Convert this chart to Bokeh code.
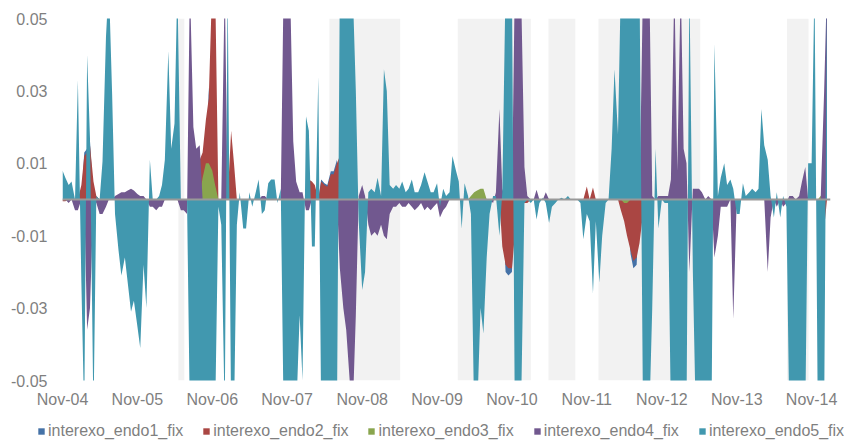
import pandas as pd
from bokeh.plotting import figure
from bokeh.layouts import column
from bokeh.models import (Range1d, FixedTicker, DatetimeTickFormatter, PrintfTickFormatter,
                          Span, Legend, LegendItem)
from bokeh.embed import file_html
from bokeh.resources import INLINE

# ---------------- data ----------------
# semi-monthly observations (1st and 15th), Nov-2004 .. Jan-2015
DATES = pd.date_range("2004-11-01", periods=246, freq="SMS")

SERIES_NAMES = ["interexo_endo1_fix", "interexo_endo2_fix", "interexo_endo3_fix",
                "interexo_endo4_fix", "interexo_endo5_fix"]

endo1 = [
    0, 0, 0, 0, 0, 0, 0, 0.013, 0.014, 0.016, 0, 0,
    0, 0, 0, 0, 0, 0, 0, 0, 0, 0, 0, 0,
    0, 0, 0, 0, 0, 0, 0, 0, 0, 0, 0, 0,
    0, 0, 0, 0, 0, 0, 0, 0, 0, 0, 0, 0.031,
    0, 0, 0, 0, 0, 0, 0, 0, 0, 0, 0, 0,
    0, 0, 0, 0, 0, 0, 0, 0, 0, 0, 0, 0,
    0, 0, 0, 0, 0, 0, 0, 0, 0, 0, 0, 0.0055,
    0.0045, 0.004, 0.0078, 0.0078, 0.011, 0, 0, 0, 0, 0, 0, 0,
    0, 0, 0, 0, 0, 0, 0, 0, 0, 0, 0, 0,
    0, 0, 0, 0, 0, 0, 0, 0, 0, 0, 0, 0,
    0, 0, 0, 0, 0, 0, 0, 0, 0, 0, 0, 0,
    0, 0, 0, 0, 0, 0, 0, 0, 0, 0, -0.02, -0.021,
    -0.02, 0, 0, 0, 0, 0, 0, 0, 0, 0, 0, 0,
    0, 0, 0, 0, 0, 0, 0, 0, 0, 0, 0, 0,
    0, 0, 0, 0, 0, 0, 0, 0, 0, 0, 0, 0,
    0, 0, -0.015, -0.019, -0.018, 0, 0, 0, 0, 0, 0, 0,
    0, 0, 0, 0, 0, 0, 0, 0, 0, 0, 0, 0,
    0, 0, 0, 0, 0, 0, 0, 0, 0, 0, 0, 0,
    0, 0, 0, 0, 0, 0, 0, 0, 0, 0, 0, 0,
    0, 0, 0, 0, 0, 0, 0, 0, 0, 0, 0, 0,
    0, 0, 0, 0, 0, 0,
]

endo2 = [
    -0.0005, -0.0005, 0, 0, 0, 0, 0.004, 0.012, 0.013, 0.015, 0.005, 0.001,
    0, 0, 0, 0, 0, 0, 0, 0, 0, 0, 0, 0,
    0, 0, 0, 0, 0, 0, 0, 0, 0, 0, 0, 0,
    0, 0, 0, 0, 0, 0, 0, 0, 0.011, 0.013, 0.022, 0.028,
    0.06, 0.06, 0, 0, 0, 0, 0.019, 0.01, 0, 0, 0, 0,
    0, 0, 0, 0, 0, 0, 0, 0, 0, 0, 0, 0,
    0, 0, 0, 0, 0, 0, 0, 0.0055, 0.005, 0.004, 0, 0.005,
    0.004, 0.0035, 0.007, 0.007, 0.01, 0.012, 0, 0, 0, 0, 0, 0,
    0, 0, 0, 0, 0, 0, 0, 0, 0, 0, 0, 0,
    0, 0, 0, 0, 0, 0, 0, 0, 0, 0, 0, 0,
    0, 0, 0, 0, 0, 0, 0, 0, 0, 0, 0, 0,
    0, 0, 0, 0, 0, 0, 0, 0, 0, -0.013, -0.018, -0.019,
    -0.019, -0.01, -0.005, -0.002, -0.001, -0.001, 0, 0, 0, 0, 0, 0,
    0, 0, 0, 0, 0, 0, 0, 0, 0, 0, 0, 0,
    0.0036, 0, 0.0033, 0, 0, 0, 0, 0, 0, 0, 0, -0.003,
    -0.006, -0.01, -0.014, -0.017, -0.016, -0.012, -0.004, 0, 0, 0, 0, 0,
    0, 0, 0, 0, 0, 0, 0, 0, 0, 0, 0, 0,
    0, 0, 0, 0, 0, 0, 0, 0, 0, 0, 0, 0,
    0, 0, 0, 0, 0, 0, 0, 0, 0, 0, 0, 0,
    0, 0, 0, 0, 0, 0, 0, 0, 0, 0, 0, 0,
    0, 0, 0, 0, -0.008, 0,
]

endo3 = [
    0, 0, 0, 0, 0, 0, 0, 0, 0, 0, 0, 0,
    0, 0, 0, 0, 0, 0, 0, 0, 0, 0, 0, 0,
    0, 0, 0, 0, 0, 0, 0, 0, 0, 0, 0, 0,
    0, 0, 0, 0, 0, 0, 0, 0, 0.001, 0.006, 0.010, 0.010,
    0.008, 0.004, 0, -0.001, 0, 0, 0, 0, 0, 0, 0, 0,
    0, 0, 0, 0, 0, 0, 0, 0, 0, 0, 0, 0,
    0, 0, 0, 0, 0, 0, 0, 0, 0, 0, 0, 0,
    0, 0, 0, 0, 0, 0, 0, 0, 0, 0, 0, 0,
    0, 0, 0, 0, 0, 0, 0, 0, 0, 0, 0, 0,
    0, 0, 0, 0, 0, 0, 0, 0, 0, 0, 0, 0,
    0, 0, 0, 0, 0, 0, 0, 0, 0, 0, 0, 0.001,
    0.002, 0.0025, 0.003, 0.003, 0, 0, 0, 0, 0, 0, 0, 0,
    0, 0, 0, 0, 0, 0, 0, 0, 0, 0, 0, 0,
    0, 0, 0, 0, 0, 0, 0, 0, 0, 0, 0, 0,
    0, 0, 0, 0, 0, 0, 0, 0, 0, 0, 0, 0,
    -0.001, -0.001, 0, 0, 0, 0, 0, 0, 0, 0, 0, 0,
    0, 0, 0, 0, 0, 0, 0, 0, 0, 0, 0, 0,
    0, 0, 0, 0, 0, 0, 0, 0, 0, 0, 0, 0,
    0, 0, 0, 0, 0, 0, 0, 0, 0, 0, 0, 0,
    0, 0, 0, 0, 0, 0, 0, 0, 0, 0, 0, 0,
    0, 0, 0, 0.001, 0.002, 0.002,
]

endo4 = [
    0, 0, -0.001, 0, -0.003, -0.003, 0, 0, -0.036, -0.03, 0, -0.001,
    -0.004, -0.004, -0.002, 0, 0, 0.001, 0.0015, 0.002, 0.002, 0.0025, 0.003, 0.0025,
    0.0015, 0.001, 0.001, 0, -0.002, -0.002, -0.003, -0.002, -0.002, 0, 0, 0,
    0, 0, -0.003, -0.003, -0.004, 0.06, 0.02, 0.014, 0.015, 0, 0, 0,
    0, 0, -0.002, 0, 0.06, 0, 0, 0, -0.001, 0, 0, 0,
    0, 0, 0, 0, 0.001, 0.001, 0, 0, 0, 0, 0, 0.06,
    0.06, 0.06, 0.016, 0.005, 0.002, 0.002, -0.003, -0.003, 0, 0, 0, 0,
    0, 0, 0, 0, 0, -0.019, -0.03, -0.036, -0.05, -0.06, -0.032, 0.001,
    0.004, 0.001, -0.007, -0.01, -0.009, -0.01, -0.007, -0.01, -0.011, -0.004, -0.002, -0.002,
    -0.001, -0.002, -0.002, -0.001, -0.002, -0.003, -0.002, -0.001, -0.003, -0.002, -0.003, -0.002,
    -0.001, -0.005, -0.003, -0.002, 0, 0, 0, 0, 0, 0, 0, 0,
    0, 0, 0, 0, 0, 0, -0.001, 0.002, 0.025, 0.003, 0, 0,
    0, 0.06, 0.06, 0.06, 0.009, 0.001, 0, 0, 0.0027, 0, 0, 0.002,
    0, 0, 0, 0, 0, 0, 0, 0, 0, 0, 0, 0,
    0, 0, 0, 0, 0, 0, 0, 0, 0, 0, 0, 0,
    0, 0, 0, 0, 0, 0, 0.06, 0.06, 0.06, 0.001, 0, 0.001,
    0.001, 0.001, 0.001, 0.0055, 0.06, 0.008, 0.06, 0.014, 0.01, -0.02, 0.003, 0.003,
    0.003, 0.002, 0, 0.001, 0, -0.016, -0.01, -0.002, -0.002, -0.002, 0, -0.033,
    0, 0, 0, 0, 0, 0, 0, 0, 0, 0, -0.02, -0.005,
    0, -0.002, 0, -0.002, -0.001, 0.001, 0.001, 0, 0.001, 0.005, 0.009, 0,
    0, 0, 0, 0, 0.03, 0.06,
]

endo5 = [
    0.008, 0.006, 0.004, 0.005, 0.0, 0.033, -0.023, -0.06, 0.04, 0.017, -0.06, 0.001,
    0.0, 0.0105, 0.045, 0.06, 0.029, -0.004, -0.014, -0.021, -0.016, -0.023, -0.031, -0.028,
    -0.035, -0.041, -0.018, -0.030, 0.011, 0.0, 0.0, 0.001, 0.004, 0.011, 0.041, 0.014,
    0.021, 0.06, 0.0, 0.0, 0.0, -0.06, -0.06, -0.06, -0.06, -0.06, -0.06, -0.06,
    -0.06, -0.06, -0.002, -0.007, -0.06, 0.06, -0.06, -0.06, -0.007, 0.002, -0.008, -0.008,
    0.002, -0.002, 0.002, 0.0055, -0.004, -0.003, 0.0045, 0.0055, 0.0055, -0.001, 0.003, -0.06,
    -0.06, -0.06, -0.06, -0.06, -0.032, -0.05, 0.023, 0.019, -0.013, -0.013, 0.034, -0.06,
    -0.06, -0.06, -0.06, -0.06, -0.06, 0.06, 0.06, 0.06, 0.06, 0.06, 0.03, -0.006,
    -0.025, -0.02, 0.002, 0.003, 0.002, 0.006, 0.001, 0.036, 0.03, 0.004, 0.003, 0.004,
    0.003, 0.005, 0.002, 0.003, 0.0055, 0.002, 0.002, 0.004, 0.0075, 0.005, 0.002, 0.002,
    0.0045, -0.002, 0.003, 0.001, 0.002, 0.012, 0.008, 0.005, -0.008, 0.0045, 0.001, -0.004,
    -0.06, -0.06, -0.03, -0.037, -0.016, -0.004, 0.001, 0.001, -0.01, 0.002, 0.06, 0.06,
    0.06, -0.06, -0.06, -0.06, -0.001, 0.0, -0.001, 0.0, -0.0055, -0.001, 0.0005, -0.001,
    -0.0065, -0.002, -0.001, 0.0, 0.0005, 0.0, 0.001, 0.0, 0.0, 0.0, -0.001, -0.011,
    -0.004, -0.006, -0.026, -0.006, -0.023, -0.01, -0.001, 0.0, 0.014, 0.036, 0.018, 0.06,
    0.06, 0.06, 0.06, 0.06, 0.06, 0.06, -0.06, -0.06, -0.06, -0.03, 0.014, -0.008,
    0.0, -0.001, -0.001, -0.06, -0.06, -0.06, -0.06, -0.06, -0.06, 0.06, -0.02, -0.06,
    -0.06, -0.06, -0.06, -0.06, -0.06, 0.043, 0.001, 0.006, 0.01, 0.004, 0.0055, 0.003,
    -0.004, -0.004, 0.0045, 0.001, 0.002, 0.003, 0.002, 0.003, 0.025, 0.015, 0.011, 0.001,
    -0.005, 0.002, -0.005, 0.001, -0.002, -0.06, -0.06, -0.06, -0.06, -0.06, -0.06, 0.01,
    0.01, 0.06, -0.06, -0.06, -0.06, 0.06,
]

# shaded periods
BAND_START = ["2006-05-20", "2008-05-25", "2010-02-10", "2011-04-28", "2011-12-28", "2014-07-04"]
BAND_END   = ["2006-06-18", "2009-05-05", "2011-02-01", "2011-09-06", "2013-05-07", "2014-10-17"]

TICK_YEARS = list(range(2004, 2015))
Y_TICKS = [-0.05, -0.03, -0.01, 0.01, 0.03, 0.05]

COLORS = ["#4572A7", "#AA4643", "#89A54E", "#71588F", "#4198AF"]
TEXT_COLOR = "#7F7F7F"
FONT = "Liberation Sans"

# ---------------- main figure ----------------
y_range = Range1d(-0.05, 0.05)
x_range = Range1d(pd.Timestamp("2004-11-01"), pd.Timestamp("2015-02-01"))

p = figure(width=844, height=410, x_axis_type="datetime", output_backend="svg",
           toolbar_location=None, x_range=x_range, y_range=y_range,
           min_border_left=62, min_border_right=14, min_border_top=18, min_border_bottom=30)
p.frame_align = False

p.background_fill_color = "white"
p.border_fill_color = "white"
p.outline_line_color = None
p.xgrid.visible = False
p.ygrid.visible = False

# shaded bands
p.quad(left=pd.to_datetime(BAND_START), right=pd.to_datetime(BAND_END),
       bottom=y_range.start, top=y_range.end,
       fill_color="#F2F2F2", line_color=None)

for vals, col in zip([endo1, endo2, endo3, endo4, endo5], COLORS):
    p.varea(x=DATES, y1=0, y2=vals, fill_color=col, fill_alpha=1.0)

p.add_layout(Span(location=0, dimension="width", line_color="#999999", line_width=2))

# axes
p.xaxis.ticker = FixedTicker(ticks=[pd.Timestamp(f"{y}-11-01").value / 1e6 for y in TICK_YEARS])
fmt = "%b-%y"
p.xaxis.formatter = DatetimeTickFormatter(microseconds=fmt, milliseconds=fmt, seconds=fmt,
                                          minsec=fmt, minutes=fmt, hourmin=fmt, hours=fmt,
                                          days=fmt, months=fmt, years=fmt)
p.yaxis.ticker = FixedTicker(ticks=Y_TICKS)
p.yaxis.formatter = PrintfTickFormatter(format="%.2f")

for ax in (p.xaxis, p.yaxis):
    ax.axis_line_color = None
    ax.major_tick_line_color = None
    ax.minor_tick_line_color = None
    ax.major_tick_out = 0
    ax.major_tick_in = 0
    ax.major_label_text_font = FONT
    ax.major_label_text_font_size = "16px"
    ax.major_label_text_color = TEXT_COLOR
p.xaxis.major_label_standoff = 10
p.yaxis.major_label_standoff = 15

# ---------------- legend strip ----------------
lg = figure(width=844, height=30, output_backend="svg", toolbar_location=None,
            x_range=Range1d(0, 1), y_range=Range1d(0, 1),
            x_axis_location=None, y_axis_location=None,
            min_border_left=0, min_border_right=0, min_border_top=0, min_border_bottom=0)
lg.frame_align = False
lg.outline_line_color = None
lg.xgrid.visible = False
lg.ygrid.visible = False
lg.background_fill_color = "white"
lg.border_fill_color = "white"

# key swatches (their data lie outside the strip's ranges, only the legend shows them)
legend_renderers = [lg.varea(x=[2, 3], y1=[0, 0], y2=[1, 1], fill_color=c, fill_alpha=1.0)
                    for c in COLORS]
legend = Legend(items=[LegendItem(label=n, renderers=[r]) for n, r in zip(SERIES_NAMES, legend_renderers)],
                orientation="horizontal", location=(37, 0),
                padding=0, margin=0, spacing=19, label_standoff=3,
                glyph_width=8, glyph_height=8, label_height=16,
                label_text_font=FONT, label_text_font_size="16px",
                label_text_color=TEXT_COLOR,
                border_line_alpha=0, background_fill_alpha=0)
lg.add_layout(legend)

layout = column(p, lg, spacing=0)
open("out.html", "w").write(file_html(layout, INLINE))
